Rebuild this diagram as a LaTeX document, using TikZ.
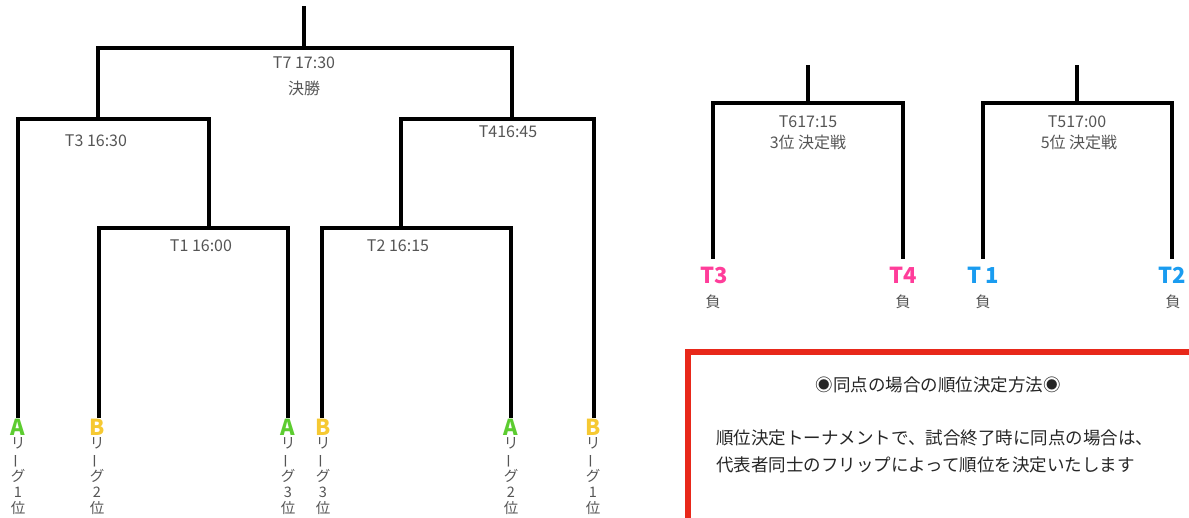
\documentclass[tikz,border=0pt]{standalone}
\usepackage{fontspec}
\usepackage{graphicx}
\setmainfont{Noto Sans CJK JP}
\definecolor{txt}{HTML}{555555}
\definecolor{agreen}{HTML}{5CCC30}
\definecolor{byellow}{HTML}{F6C932}
\definecolor{tpink}{HTML}{FF3D9A}
\definecolor{tblue}{HTML}{1A9CF0}
\definecolor{boxred}{HTML}{E8281A}
\newcommand{\vbar}{\rotatebox[origin=c]{90}{ー}}
\begin{document}
\begin{tikzpicture}[x=1pt,y=-1pt,
  br/.style={line width=4pt,line join=miter,line cap=rect},
  lab/.style={text=txt,font=\fontsize{16}{19}\selectfont,inner sep=0pt,align=center},
  big/.style={font=\fontsize{22}{24}\selectfont\bfseries,inner sep=0pt},
  vt/.style={text=txt,font=\fontsize{14.5}{15.8}\selectfont,inner sep=0pt,align=center,anchor=north},
  lose/.style={text=txt,font=\fontsize{15}{18}\selectfont,inner sep=0pt}]
\useasboundingbox (0,0) rectangle (1189,517);
\clip (0,0) rectangle (1189,517);
% main bracket coordinates
\coordinate (f7) at (304,8);
\coordinate (j7) at (304,48);
\coordinate (j3) at (98,119);
\coordinate (j4) at (512,119);
\coordinate (j1) at (209,228);
\coordinate (j2) at (401,228);
\coordinate (e1) at (18,416);
\coordinate (e2) at (99,416);
\coordinate (e3) at (288,416);
\coordinate (e4) at (322,416);
\coordinate (e5) at (511,416);
\coordinate (e6) at (594,416);
\draw[br] (f7) -- (j7);
\draw[br] (j3) |- (j7) -| (j4);
\draw[br] (e1) |- (j3) -| (j1);
\draw[br] (e2) |- (j1) -| (e3);
\draw[br] (j2) |- (j4) -| (e6);
\draw[br] (e4) |- (j2) -| (e5);
% match labels
\node[lab] (l7) at (304,63) {T7 17:30};
\node[lab] (l7b) at (304,88) {決勝};
\node[lab] (l3) at (96,141) {T3 16:30};
\node[lab] (l4) at (508,132) {T416:45};
\node[lab] (l1) at (201,246) {T1 16:00};
\node[lab] (l2) at (398,246) {T2 16:15};
% leaves
\foreach \n/\x/\c/\l/\r in {1/18/agreen/A/1,2/97/byellow/B/2,3/288/agreen/A/3,4/323/byellow/B/3,5/511/agreen/A/2,6/593/byellow/B/1}{
  \node[big,text=\c,text height=16pt,text depth=0pt] (t\n) at (\x,427) {\l};
  \node[vt] (v\n) at (\x,437.5) {リ\\\vbar\\グ\\\r\\位};
}
% placement matches
\coordinate (f6) at (808,67);
\coordinate (j6) at (808,103);
\coordinate (s3) at (713,257);
\coordinate (s4) at (903,257);
\coordinate (f5) at (1077,67);
\coordinate (j5) at (1077,103);
\coordinate (s1) at (983,257);
\coordinate (s2) at (1172,257);
\draw[br] (f6) -- (j6);
\draw[br] (s3) |- (j6) -| (s4);
\draw[br] (f5) -- (j5);
\draw[br] (s1) |- (j5) -| (s2);
\node[lab] (l6) at (808,122) {T617:15};
\node[lab] (l6b) at (808,142) {3位 決定戦};
\node[lab] (l5) at (1077,122) {T517:00};
\node[lab] (l5b) at (1079,142) {5位 決定戦};
\node[big,text=tpink] (r3) at (714,275) {T3};
\node[big,text=tpink] (r4) at (903,275) {T4};
\node[big,text=tblue] (r1) at (983,275) {T\,1};
\node[big,text=tblue] (r2) at (1172,275) {T2};
\node[lose] (n3) at (713,302) {負};
\node[lose] (n4) at (903,302) {負};
\node[lose] (n1) at (983,302) {負};
\node[lose] (n2) at (1173,302) {負};
% note box
\draw[boxred,line width=6pt] (688,530) -- (688,352) -- (1200,352);
\node[text=black!85,font=\fontsize{17.5}{20}\selectfont,inner sep=0pt] (nh) at (938,385) {◉同点の場合の順位決定方法◉};
\node[text=black!85,font=\fontsize{17.5}{27}\selectfont,inner sep=0pt,anchor=north west,align=left] (nb) at (716,430) {順位決定トーナメントで、試合終了時に同点の場合は、\\代表者同士のフリップによって順位を決定いたします};
\end{tikzpicture}
\end{document}
